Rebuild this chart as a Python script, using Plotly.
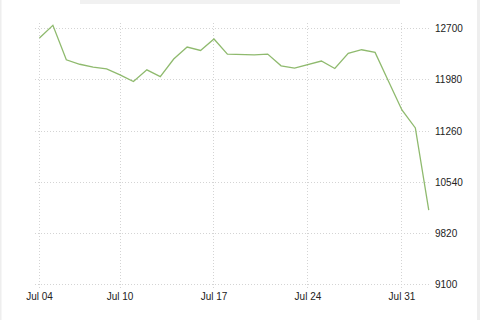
import plotly.graph_objects as go
import pandas as pd

dates = pd.date_range("2019-07-04", "2019-08-02", freq="D").strftime("%Y-%m-%d").tolist()
values = [12569, 12747, 12263, 12200, 12160, 12136, 12051, 11957, 12122, 12027,
          12273, 12442, 12394, 12555, 12343, 12333, 12333, 12343, 12178, 12146,
          12192, 12245, 12140, 12352, 12404, 12366, 11960, 11558, 11304, 10148]
y_ticks = [9100, 9820, 10540, 11260, 11980, 12700]
y_labels = [str(v) for v in y_ticks]
x_ticks = ["2019-07-04", "2019-07-10", "2019-07-17", "2019-07-24", "2019-07-31"]
x_labels = ["Jul 04", "Jul 10", "Jul 17", "Jul 24", "Jul 31"]

L, R, T, B = 35, 49, 23, 31
W, H = 480, 320
pw, ph = W - L - R, H - T - B

def px(x):
    return (x - L) / pw

def py(y):
    return 1 - (y - T) / ph

fig = go.Figure()
fig.add_trace(go.Scatter(x=dates, y=values, mode="lines",
                         line=dict(color="#8fba6e", width=1.3), hoverinfo="skip"))

grid = dict(showgrid=True, gridcolor="#d4d4d4", gridwidth=1, griddash="1px,2px",
            zeroline=False, showline=False, ticks="",
            tickfont=dict(family="Liberation Sans, Arial, sans-serif", size=10, color="#222"))

fig.update_xaxes(range=["2019-07-03 16:00", "2019-08-02 04:00"], tickvals=x_ticks,
                 ticktext=x_labels, **grid)
fig.update_yaxes(range=[9040, 12780], tickvals=y_ticks, ticktext=y_labels, side="right",
                 ticklabelstandoff=3, **grid)

shapes = [
    dict(type="rect", xref="paper", yref="paper", x0=px(80), x1=px(400), y0=py(4), y1=py(0),
         fillcolor="#f1f1f1", line=dict(width=0), layer="above"),
    dict(type="rect", xref="paper", yref="paper", x0=px(0), x1=px(1.5), y0=py(320), y1=py(0),
         fillcolor="#eeeeee", line=dict(width=0), layer="above"),
    dict(type="rect", xref="paper", yref="paper", x0=px(477), x1=px(480), y0=py(320), y1=py(0),
         fillcolor="#eeeeee", line=dict(width=0), layer="above"),
]

fig.update_layout(width=W, height=H, margin=dict(l=L, r=R, t=T, b=B),
                  paper_bgcolor="white", plot_bgcolor="white", showlegend=False,
                  shapes=shapes)

fig.write_html("out.html")
